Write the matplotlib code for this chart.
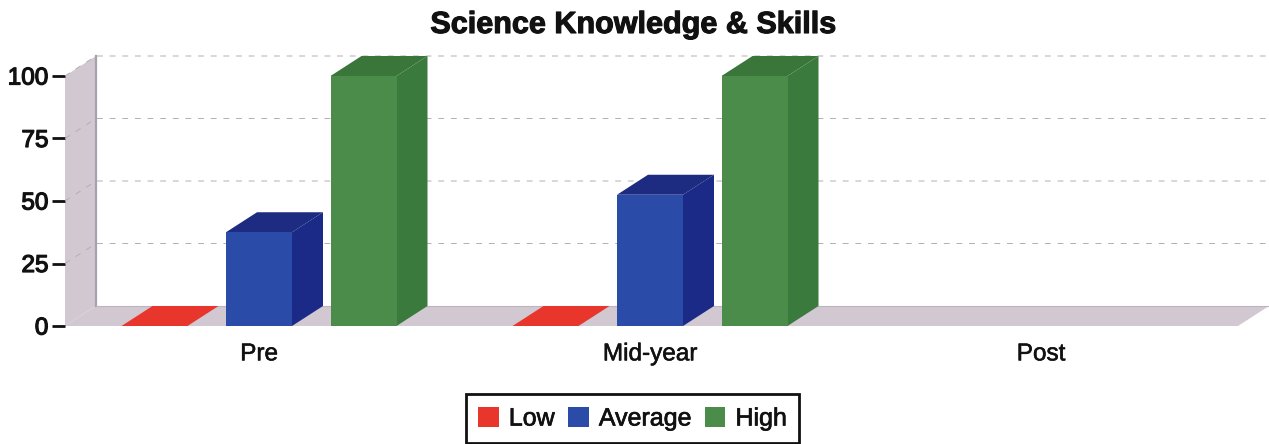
import matplotlib
matplotlib.use('Agg')
import matplotlib.pyplot as plt
from matplotlib.patches import Polygon, Patch
import matplotlib.patheffects as pe

# values
categories = ['Pre', 'Mid-year', 'Post']
low = [0, 0, 0]
average = [37.5, 52.5, 0]
high = [100, 100, 0]
y_ticks = [0, 25, 50, 75, 100]
series_names = ['Low', 'Average', 'High']

# front, side, top colours for each series
red_cols = ['#e8362c', '#c42a22', '#e8362c']
blue_cols = ['#2a4ba8', '#1a2a86', '#1d2b80']
green_cols = ['#4b8c4a', '#3a7a3c', '#3a7639']
wall_col = '#d2c8d2'
wall_edge = '#a9a0ae'

W, H = 1269, 444
bar_w = 66 / 391
step = 104.5 / 391
dx = 31 / 391   # depth of the 3d effect, x units
dy = 8          # depth of the 3d effect, y units

plt.rcParams['font.family'] = ['Liberation Sans', 'DejaVu Sans']

fig = plt.figure(figsize=(W / 100, H / 100), dpi=100)
ax = fig.add_axes([65 / W, (H - 326) / H, (1238 - 65) / W, 250 / H])
ax.set_xlim((65 - 259) / 391, (1238 - 259) / 391)
ax.set_ylim(0, 100)
x0, x1 = ax.get_xlim()
for s in ax.spines.values():
    s.set_visible(False)
ax.patch.set_visible(False)


def poly(pts, col, z=1):
    ax.add_patch(Polygon(pts, closed=True, fc=col, ec='none', zorder=z, clip_on=False))


# floor and left wall
poly([(x0, 0), (x1, 0), (x1 + dx, dy), (x0 + dx, dy)], wall_col)
poly([(x0, 0), (x0 + dx, dy), (x0 + dx, 100 + dy), (x0, 100)], wall_col)
ax.plot([x0 + dx, x0 + dx], [dy, 100 + dy], color=wall_edge, lw=1.6, zorder=2, clip_on=False)
ax.plot([x0 + dx, x1 + dx], [dy, dy], color='#bdb4c0', lw=0.8, zorder=2, clip_on=False)

# grid lines on wall and back
for t in y_ticks[1:]:
    ax.plot([x0, x0 + dx, x1 + dx], [t, t + dy, t + dy], color='#b0b0b0', lw=0.7,
            ls=(0, (6, 7)), zorder=2, clip_on=False)


def bar3d(xc, v, cols):
    l, r = xc - bar_w / 2, xc + bar_w / 2
    if v > 0:
        poly([(r, 0), (r + dx, dy), (r + dx, v + dy), (r, v)], cols[1], 3)
        poly([(l, v), (r, v), (r + dx, v + dy), (l + dx, v + dy)], cols[2], 3)
        poly([(l, 0), (r, 0), (r, v), (l, v)], cols[0], 4)
    else:
        poly([(l, 0), (r, 0), (r + dx, dy), (l + dx, dy)], cols[0], 3)


for i in range(2):
    bar3d(i - step, low[i], red_cols)
    bar3d(i, average[i], blue_cols)
    bar3d(i + step, high[i], green_cols)

heavy = [pe.withStroke(linewidth=0.9, foreground='#111111')]

ax.set_yticks(y_ticks)
ax.set_xticks(range(len(categories)))
ax.set_xticklabels(categories, fontsize=17.5, color='#111111')
ax.tick_params(axis='x', length=0, pad=12.5)
ax.tick_params(axis='y', length=9.4, width=2, color='#111111', pad=2.5, labelsize=17.5, labelcolor='#111111')
for lab in ax.get_yticklabels():
    lab.set_path_effects(heavy)
for lab in ax.get_xticklabels():
    lab.set_path_effects([pe.withStroke(linewidth=0.4, foreground='#111111')])

title = fig.text(633 / W, (H - 25) / H, 'Science Knowledge & Skills', ha='center', va='center',
                 fontsize=22, fontweight='bold', color='#111111')
title.set_path_effects([pe.withStroke(linewidth=0.8, foreground='#111111')])

handles = [Patch(fc=red_cols[0]), Patch(fc=blue_cols[0]), Patch(fc=green_cols[0])]
leg = fig.legend(handles, series_names, ncol=3, loc='lower center',
                 bbox_to_anchor=(632.5 / W, 1 / H), frameon=True, fancybox=False,
                 edgecolor='#111111', framealpha=1, fontsize=18,
                 handlelength=0.82, handleheight=0.82, handletextpad=0.4, columnspacing=0.55,
                 borderpad=0.5, borderaxespad=0, labelcolor='#111111')
leg.get_frame().set_linewidth(2)
for lab in leg.get_texts():
    lab.set_path_effects([pe.withStroke(linewidth=0.5, foreground='#111111')])

fig.savefig('out.png', dpi=100)
